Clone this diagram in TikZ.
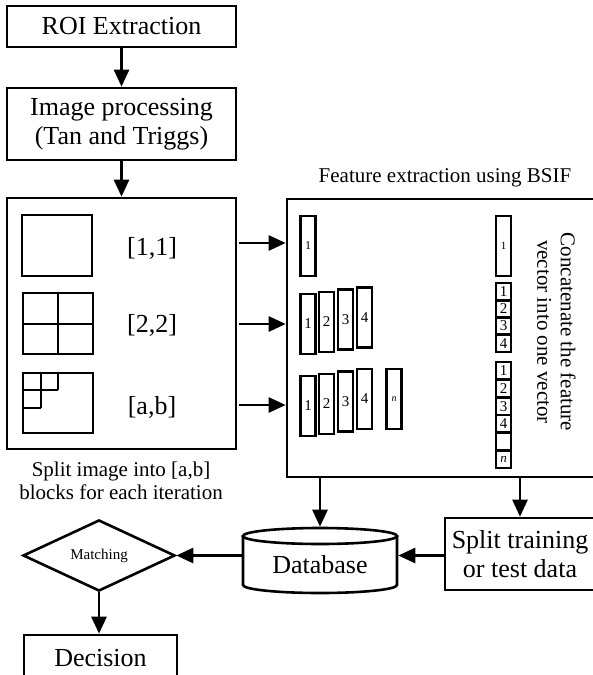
\documentclass[tikz,border=0pt]{standalone}
\usepackage{fontspec}
\setmainfont{Liberation Serif}
\usetikzlibrary{arrows.meta,shapes.geometric}

\begin{document}
\begin{tikzpicture}[x=1pt,y=-1pt,
  line width=2.6pt,
  bigfont/.style={font=\fontsize{26}{29}\selectfont},
  box/.style={draw, rectangle, inner sep=0pt, align=center, bigfont},
  arr/.style={-{Triangle[length=17pt,width=15pt]}},
  vec/.style={draw, rectangle, inner sep=0pt, minimum width=15pt, minimum height=60pt,
              line width=2.4pt, font=\fontsize{15}{15}\selectfont},
  cell/.style={draw, rectangle, inner sep=0pt, minimum width=15pt, minimum height=17.4pt,
               line width=2.4pt, font=\fontsize{15}{15}\selectfont},
  notetext/.style={align=center, font=\fontsize{21}{22.5}\selectfont},
]
\useasboundingbox (0,0) rectangle (593,675);

% --- left column of processing steps
\node[box, minimum width=229pt, minimum height=41pt] (roi) at (121.5,26.5) {ROI Extraction};
\node[box, minimum width=229pt, minimum height=72pt] (img) at (121.5,124) {Image processing\\(Tan and Triggs)};
\node[draw, rectangle, minimum width=229pt, minimum height=251pt] (blk) at (121.5,323.5) {};
\draw[arr] (roi) -- (img);
\draw[arr] (img) -- (blk);

% block partitions
\draw (22,215) rectangle (92,276);
\draw (23,293) rectangle (93,354);
\draw (58,293) -- (58,354);
\draw (23,324) -- (93,324);
\draw (23,373) rectangle (93,433);
\draw (41,373) -- (41,408);
\draw (58,373) -- (58,390);
\draw (23,390) -- (58,390);
\draw (23,408) -- (41,408);
\node[bigfont] (l11) at (152,248) {[1,1]};
\node[bigfont] (l22) at (152,325) {[2,2]};
\node[bigfont] (lab) at (152,407) {[a,b]};
\node[notetext] (bnote) at (121,481) {Split image into [a,b]\\blocks for each iteration};

% --- feature extraction panel
\node[draw, rectangle, minimum width=313pt, minimum height=278pt] (fe) at (443.5,338) {};
\node[notetext, anchor=base] (ftitle) at (445,182) {Feature extraction using BSIF};

\coordinate (a1) at (239,243);
\coordinate (a2) at (239,324);
\coordinate (a3) at (239,405);
\draw[arr] (a1) -- (a1 -| fe.west);
\draw[arr] (a2) -- (a2 -| fe.west);
\draw[arr] (a3) -- (a3 -| fe.west);

% histogram vectors per block
\node[vec, font=\fontsize{12}{12}\selectfont] (r1a) at (308,246) {1};
\node[vec] (r2a) at (308,324) {1};
\node[vec] (r2b) at (326.5,322) {2};
\node[vec] (r2c) at (345.5,319.5) {3};
\node[vec] (r2d) at (364.5,317.5) {4};
\node[vec] (r3a) at (308,406) {1};
\node[vec] (r3b) at (326.5,404) {2};
\node[vec] (r3c) at (345.5,401.5) {3};
\node[vec] (r3d) at (364.5,399) {4};
\node[vec, font=\fontsize{10}{10}\selectfont\itshape] (r3n) at (394,399) {n};

% concatenated vectors
\node[vec, font=\fontsize{11}{11}\selectfont] (c1) at (503.5,246) {1};
\node[cell] (c2a) at (503.5,291.7) {1};
\node[cell] (c2b) at (503.5,308.9) {2};
\node[cell] (c2c) at (503.5,326.1) {3};
\node[cell] (c2d) at (503.5,343.3) {4};
\node[cell] (c3a) at (503.5,370.8) {1};
\node[cell] (c3b) at (503.5,388.5) {2};
\node[cell] (c3c) at (503.5,406.2) {3};
\node[cell] (c3d) at (503.5,423.8) {4};
\node[cell] (c3e) at (503.5,441.5) {};
\node[cell, font=\fontsize{13}{13}\selectfont\itshape] (c3n) at (503.5,459.2) {n};

\node[notetext, rotate=-90, font=\fontsize{21}{23.5}\selectfont] (concat) at (556.5,332)
  {Concatenate the feature\\vector into one vector};

% --- storage and matching
\node[inner sep=0pt, minimum width=154pt, minimum height=65pt] (db) at (320,560.5) {};
\draw (243,536) -- (243,585) arc[start angle=180, end angle=360, x radius=77pt, y radius=8pt] -- (397,536);
\draw (320,536) ellipse [x radius=77pt, y radius=8pt];
\node[bigfont] (dbt) at (320,565) {Database};

\node[box, minimum width=150pt, minimum height=72pt] (spl) at (520,554) {Split training\\or test data};
\node[draw, diamond, inner sep=0pt, minimum width=152pt, minimum height=56pt,
      font=\fontsize{15}{15}\selectfont] (mat) at (99,555.5) {Matching};
\node[box, minimum width=153pt, minimum height=46pt] (dec) at (100.5,658) {Decision};

\draw[arr] (fe.south -| db.north) -- (db.north);
\draw[arr] (fe.south -| spl.north) -- (spl.north);
\draw[arr] (spl.west |- mat.east) -- (mat.east -| db.east);
\draw[arr] (db.west |- mat.east) -- (mat.east);
\draw[arr] (mat.south) -- (mat.south |- dec.north);
\end{tikzpicture}
\end{document}
